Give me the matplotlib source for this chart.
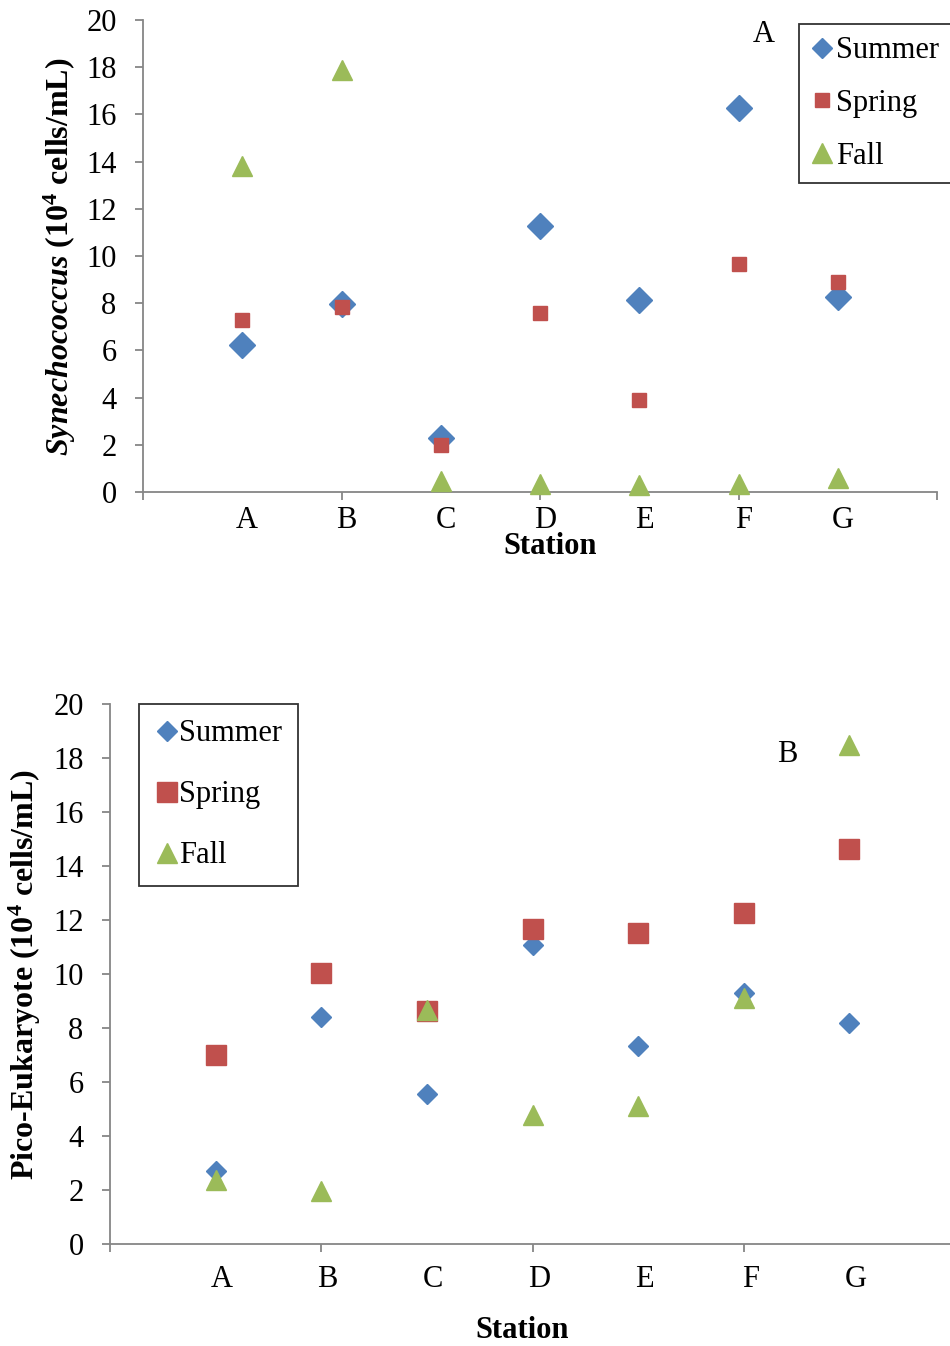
import matplotlib.pyplot as plt
from matplotlib.lines import Line2D

plt.rcParams['font.family'] = ['Liberation Serif', 'DejaVu Serif']
plt.rcParams['mathtext.fontset'] = 'custom'
plt.rcParams['mathtext.rm'] = 'Liberation Serif'
plt.rcParams['mathtext.it'] = 'Liberation Serif:italic'
plt.rcParams['mathtext.bf'] = 'Liberation Serif:bold'
plt.rcParams['mathtext.bfit'] = 'Liberation Serif:italic:bold'

stations = ['A', 'B', 'C', 'D', 'E', 'F', 'G']
xpos = [1, 2, 3, 4, 5, 6, 7]
seasons = ['Summer', 'Spring', 'Fall']

# Synechococcus (10^4 cells/mL)
syn_summer = [6.22, 7.95, 2.27, 11.28, 8.14, 16.28, 8.25]
syn_spring = [7.27, 7.84, 1.98, 7.58, 3.90, 9.65, 8.89]
syn_fall = [13.80, 17.90, 0.45, 0.33, 0.30, 0.34, 0.59]

# Pico-Eukaryote (10^4 cells/mL)
pico_summer = [2.70, 8.42, 5.57, 11.07, 7.34, 9.29, 8.17]
pico_spring = [6.99, 10.03, 8.63, 11.67, 11.51, 12.25, 14.62]
pico_fall = [2.38, 1.95, 8.65, 4.77, 5.12, 9.11, 18.48]

blue, red, green = '#4F81BD', '#C0504D', '#9BBB59'
grey = '#868686'
fs = 22

fig = plt.figure(figsize=(9.5, 13.46), dpi=100)
W, H = 950.0, 1346.0


def px_axes(l, t, r, b):
    return fig.add_axes([l / W, 1 - b / H, (r - l) / W, (b - t) / H])


def style(ax, lab_off, lab_y):
    ax.set_xlim(0, 8)
    ax.set_ylim(0, 20)
    ax.set_xticks([0, 2, 4, 6, 8])
    ax.set_xticklabels([])
    ax.set_yticks(range(0, 21, 2))
    for s in ['top', 'right']:
        ax.spines[s].set_visible(False)
    for s in ['left', 'bottom']:
        ax.spines[s].set_color(grey)
        ax.spines[s].set_linewidth(1.3)
    ax.tick_params(direction='out', length=6, width=1.3, color=grey,
                   labelsize=fs, pad=13)
    tr = ax.get_xaxis_transform()
    for x, s in zip(xpos, stations):
        ax.text(x + lab_off, lab_y, s, transform=tr, ha='center', va='center',
                fontsize=fs)


# ---- panel A ----
ax1 = px_axes(143, 20, 937, 492)
ax1.plot(xpos, syn_summer, 'D', color=blue, ms=13, mec=blue, clip_on=False, zorder=3)
ax1.plot(xpos, syn_spring, 's', color=red, ms=10.5, mec=red, clip_on=False, zorder=4)
ax1.plot(xpos, syn_fall, '^', color=green, ms=15, mec=green, clip_on=False, zorder=5)
style(ax1, 0.05, -0.060)
h1 = [Line2D([], [], ls='none', marker='D', color=blue, ms=10),
      Line2D([], [], ls='none', marker='s', color=red, ms=10.5),
      Line2D([], [], ls='none', marker='^', color=green, ms=14)]
leg1 = ax1.legend(h1, seasons, loc='upper left',
                  bbox_to_anchor=(799 / W, 1 - 24 / H),
                  bbox_transform=fig.transFigure, fontsize=fs, frameon=True,
                  fancybox=False, edgecolor='black', handlelength=0.7,
                  handletextpad=0.1, labelspacing=0.78, borderpad=0.4,
                  borderaxespad=0)
leg1.get_frame().set_linewidth(1.3)
fig.text(764 / W, 1 - 34 / H, 'A', ha='center', va='center', fontsize=fs)
fig.text(550 / W, 1 - 547 / H, 'Station', ha='center', va='center',
         fontsize=fs, fontweight='bold')
fig.text(60 / W, 1 - 257 / H,
         r'$\mathbfit{Synechococcus}$ (10$^{\mathbf{4}}$ cells/mL)',
         rotation=90, ha='center', va='center', fontsize=23, fontweight='bold')

# ---- panel B ----
ax2 = px_axes(110, 704, 955, 1244)
ax2.plot(xpos, pico_summer, 'D', color=blue, ms=10, mec=blue, clip_on=False, zorder=3)
ax2.plot(xpos, pico_spring, 's', color=red, ms=14.5, mec=red, clip_on=False, zorder=4)
ax2.plot(xpos, pico_fall, '^', color=green, ms=14.5, mec=green, clip_on=False, zorder=5)
style(ax2, 0.06, -0.066)
h2 = [Line2D([], [], ls='none', marker='D', color=blue, ms=10),
      Line2D([], [], ls='none', marker='s', color=red, ms=14),
      Line2D([], [], ls='none', marker='^', color=green, ms=14)]
leg2 = ax2.legend(h2, seasons, loc='upper left',
                  bbox_to_anchor=(139 / W, 1 - 704 / H),
                  bbox_transform=fig.transFigure, fontsize=fs, frameon=True,
                  fancybox=False, edgecolor='black', handlelength=0.8,
                  handletextpad=0.02, labelspacing=1.05, borderpad=0.5,
                  borderaxespad=0)
leg2.get_frame().set_linewidth(1.3)
fig.text(787 / W, 1 - 754 / H, 'B', ha='center', va='center', fontsize=fs)
fig.text(522 / W, 1 - 1330 / H, 'Station', ha='center', va='center',
         fontsize=fs, fontweight='bold')
fig.text(25 / W, 1 - 975 / H,
         r'Pico-Eukaryote (10$^{\mathbf{4}}$ cells/mL)',
         rotation=90, ha='center', va='center', fontsize=23, fontweight='bold')

fig.savefig('out.png', dpi=100)
